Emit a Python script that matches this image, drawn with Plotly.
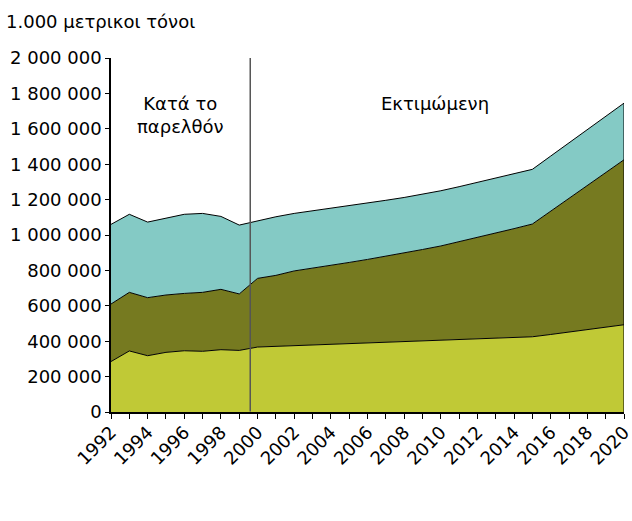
import plotly.graph_objects as go

years = list(range(1992, 2021))
# cumulative tops (thousand tonnes)
bottom_top = [285, 345, 318, 337, 346, 343, 352, 348, 367, 371, 375, 378, 382, 388, 390,
              394, 398, 402, 406, 408, 412, 417, 421, 425, 438, 452, 466, 480, 493]
middle_top = [610, 676, 646, 661, 670, 676, 693, 667, 755, 772, 797, 812, 827, 845, 862,
              880, 896, 918, 938, 962, 985, 1010, 1036, 1062, 1135, 1208, 1280, 1352, 1425]
upper_top = [1060, 1117, 1073, 1096, 1117, 1122, 1105, 1056, 1081, 1103, 1122, 1136, 1150,
             1165, 1180, 1196, 1212, 1230, 1250, 1273, 1298, 1322, 1346, 1371, 1446, 1521,
             1596, 1670, 1745]
tick_years = list(range(1992, 2021, 2))

layer1 = [b * 1000 for b in bottom_top]
layer2 = [(m - b) * 1000 for m, b in zip(middle_top, bottom_top)]
layer3 = [(u - m) * 1000 for u, m in zip(upper_top, middle_top)]

colors = ["#C0C936", "#767A20", "#84CAC5"]
FONT = "DejaVu Sans"
FS = 18

fig = go.Figure()
for vals, col in zip([layer1, layer2, layer3], colors):
    fig.add_trace(go.Scatter(x=years, y=vals, stackgroup="one", mode="lines",
                             line=dict(color="black", width=1), fillcolor=col,
                             hoverinfo="skip", showlegend=False))

split_year = 1999.6
fig.add_shape(type="line", x0=split_year, x1=split_year, y0=3000, y1=2000000,
              xref="x", yref="y", line=dict(color="#555555", width=1.5))
fig.add_shape(type="line", x0=years[-1], x1=years[-1], y0=0, y1=upper_top[-1] * 1000,
              xref="x", yref="y", line=dict(color="black", width=1))

fig.add_annotation(x=1995.8, y=1812000, text="Κατά το<br>παρελθόν", showarrow=False,
                   font=dict(family=FONT, size=FS, color="black"), xref="x", yref="y",
                   align="center", yanchor="top")
fig.add_annotation(x=2009.7, y=1745000, text="Εκτιμώμενη", showarrow=False,
                   font=dict(family=FONT, size=FS, color="black"), xref="x", yref="y")

fig.update_layout(
    width=632, height=521,
    margin=dict(l=111, r=8, t=58, b=109, autoexpand=False),
    paper_bgcolor="white", plot_bgcolor="white",
    separators=". ",
    font=dict(family=FONT, size=FS, color="black"),
    title=dict(text="1.000 μετρικοι τόνοι", x=6 / 632, xref="container", xanchor="left",
               y=1 - 22 / 521, yref="container", yanchor="middle",
               font=dict(family=FONT, size=FS, color="black")),
)
fig.update_xaxes(range=[1992, 2020], tickmode="array", tickvals=tick_years,
                 tickangle=-45, tickformat="d", showgrid=False, zeroline=False,
                 automargin=False,
                 showline=True, linecolor="black", linewidth=1.5,
                 ticks="outside", ticklen=5, tickcolor="black", ticklabeloverflow="allow",
                 ticklabelstandoff=-4,
                 minor=dict(dtick=1, tick0=1992, ticks="outside", ticklen=5, tickcolor="black"),
                 tickfont=dict(family=FONT, size=FS))
fig.update_yaxes(range=[0, 2000000], tickmode="linear", tick0=0, dtick=200000,
                 tickformat=",d", showgrid=False, zeroline=False, automargin=False,
                 showline=True, linecolor="black", linewidth=1.5,
                 ticks="outside", ticklen=4, tickcolor="black",
                 tickfont=dict(family=FONT, size=FS))

fig.write_html("out.html", config={"displayModeBar": False},
               post_script="document.body.style.margin='0';document.body.style.padding='0';")
